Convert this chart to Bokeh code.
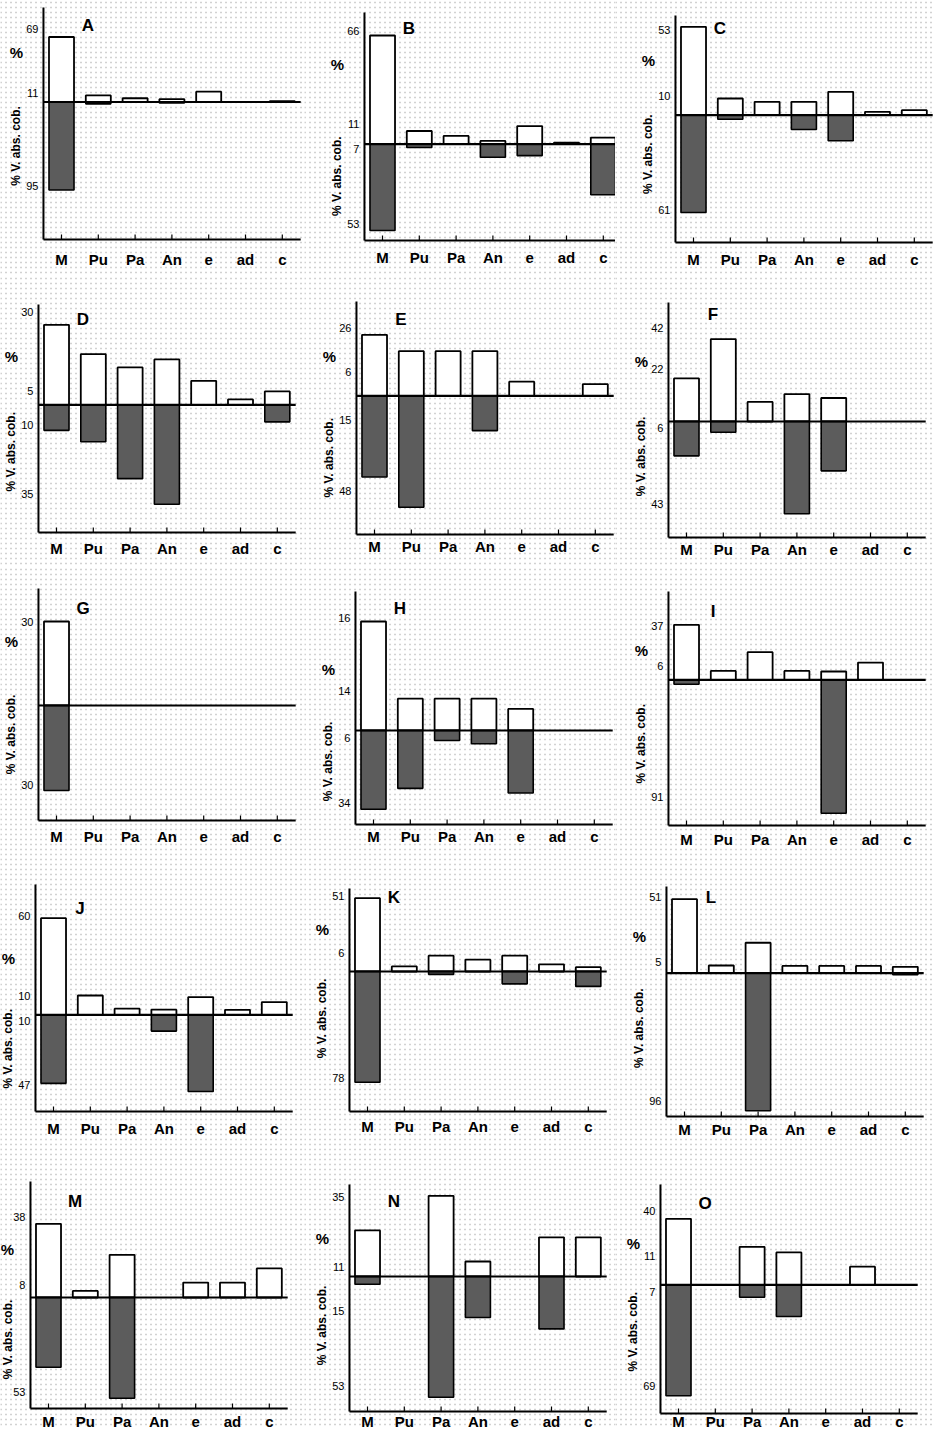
import numpy as np
from bokeh.plotting import figure
from bokeh.models import Range1d, Grid, FixedTicker
from bokeh.layouts import column, row
from bokeh.embed import file_html
from bokeh.resources import INLINE
from bokeh.core.properties import value

# ---------------- data ----------------
CATS = ["M", "Pu", "Pa", "An", "e", "ad", "c"]

A_UP = [69, 7, 4, 3, 11, 0, 1]
A_DOWN = [95, 2, 0, 1, 0, 0, 0]
B_UP = [66, 8, 5, 2, 11, 1, 4]
B_DOWN = [53, 2, 0, 8, 7, 0, 31]
C_UP = [53, 10, 8, 8, 14, 2, 3]
C_DOWN = [61, 2.5, 0, 9, 16, 0, 0]
D_UP = [30, 19, 14, 17, 9, 2, 5]
D_DOWN = [9, 13, 26, 35, 0, 0, 6]
E_UP = [26, 19, 19, 19, 6, 0, 5]
E_DOWN = [35, 48, 0, 15, 0, 0, 0]
F_UP = [22, 42, 10, 14, 12, 0, 0]
F_DOWN = [16, 5, 0, 43, 23, 0, 0]
G_UP = [30, 0, 0, 0, 0, 0, 0]
G_DOWN = [30, 0, 0, 0, 0, 0, 0]
H_UP = [48, 14, 14, 14, 9.5, 0, 0]
H_DOWN = [34, 25, 4.3, 5.7, 27, 0, 0]
I_UP = [37, 6, 18.6, 6, 5.6, 11.6, 0]
I_DOWN = [3, 0, 0, 0, 91, 0, 0]
J_UP = [60, 12, 3.8, 3.2, 11, 3.1, 7.9]
J_DOWN = [42, 0, 0, 10, 47, 0, 0]
K_UP = [51, 3.5, 11, 8.2, 11, 5, 3]
K_DOWN = [78, 0, 2, 0, 8.7, 0, 10.5]
L_UP = [51, 5.3, 21, 5, 5, 5, 4.4]
L_DOWN = [0, 0, 96, 0, 0, 0, 1]
M_UP = [38, 3.4, 22, 0, 7.7, 7.7, 15]
M_DOWN = [36.7, 0, 53, 0, 0, 0, 0]
N_UP = [20, 0, 35, 6.5, 0, 17, 17]
N_DOWN = [3.4, 0, 53, 18, 0, 23, 0]
O_UP = [40, 0, 23, 19.6, 0, 11, 0]
O_DOWN = [69, 0, 7.7, 19.7, 0, 0, 0]

# tick label positions (in each half's own units) and their printed texts
A_UP_TICKS, A_UP_LABELS = [77, 10], ["69", "11"]
A_DN_TICKS, A_DN_LABELS = [91], ["95"]
B_UP_TICKS, B_UP_LABELS = [69, 12], ["66", "11"]
B_DN_TICKS, B_DN_LABELS = [3, 49], ["7", "53"]
C_UP_TICKS, C_UP_LABELS = [51, 11.6], ["53", "10"]
C_DN_TICKS, C_DN_LABELS = [59.5], ["61"]
D_UP_TICKS, D_UP_LABELS = [34.7, 5], ["30", "5"]
D_DN_TICKS, D_DN_LABELS = [7, 31.5], ["10", "35"]
E_UP_TICKS, E_UP_LABELS = [28.8, 10], ["26", "6"]
E_DN_TICKS, E_DN_LABELS = [10.3, 41], ["15", "48"]
F_UP_TICKS, F_UP_LABELS = [47.8, 27], ["42", "22"]
F_DN_TICKS, F_DN_LABELS = [3.1, 38.6], ["6", "43"]
G_UP_TICKS, G_UP_LABELS = [30], ["30"]
G_DN_TICKS, G_DN_LABELS = [28], ["30"]
H_UP_TICKS, H_UP_LABELS = [49.4, 17.2], ["16", "14"]
H_DN_TICKS, H_DN_LABELS = [3.3, 31.3], ["6", "34"]
I_UP_TICKS, I_UP_LABELS = [36.5, 9], ["37", "6"]
I_DN_TICKS, I_DN_LABELS = [80], ["91"]
J_UP_TICKS, J_UP_LABELS = [61.4, 11.5], ["60", "10"]
J_DN_TICKS, J_DN_LABELS = [4, 43], ["10", "47"]
K_UP_TICKS, K_UP_LABELS = [52.4, 12.8], ["51", "6"]
K_DN_TICKS, K_DN_LABELS = [75], ["78"]
L_UP_TICKS, L_UP_LABELS = [52.8, 8], ["51", "5"]
L_DN_TICKS, L_DN_LABELS = [89.4], ["96"]
M_UP_TICKS, M_UP_LABELS = [41.6, 6.5], ["38", "8"]
M_DN_TICKS, M_DN_LABELS = [49.7], ["53"]
N_UP_TICKS, N_UP_LABELS = [34.6, 4.3], ["35", "11"]
N_DN_TICKS, N_DN_LABELS = [15.3, 48.2], ["15", "53"]
O_UP_TICKS, O_UP_LABELS = [44.8, 17.2], ["40", "11"]
O_DN_TICKS, O_DN_LABELS = [4.6, 63.2], ["7", "69"]

UPPER_TITLE = "%"
LOWER_TITLE = "% V. abs. cob."

PANELS = {
    "A": (A_UP, A_DOWN, A_UP_TICKS, A_UP_LABELS, A_DN_TICKS, A_DN_LABELS),
    "B": (B_UP, B_DOWN, B_UP_TICKS, B_UP_LABELS, B_DN_TICKS, B_DN_LABELS),
    "C": (C_UP, C_DOWN, C_UP_TICKS, C_UP_LABELS, C_DN_TICKS, C_DN_LABELS),
    "D": (D_UP, D_DOWN, D_UP_TICKS, D_UP_LABELS, D_DN_TICKS, D_DN_LABELS),
    "E": (E_UP, E_DOWN, E_UP_TICKS, E_UP_LABELS, E_DN_TICKS, E_DN_LABELS),
    "F": (F_UP, F_DOWN, F_UP_TICKS, F_UP_LABELS, F_DN_TICKS, F_DN_LABELS),
    "G": (G_UP, G_DOWN, G_UP_TICKS, G_UP_LABELS, G_DN_TICKS, G_DN_LABELS),
    "H": (H_UP, H_DOWN, H_UP_TICKS, H_UP_LABELS, H_DN_TICKS, H_DN_LABELS),
    "I": (I_UP, I_DOWN, I_UP_TICKS, I_UP_LABELS, I_DN_TICKS, I_DN_LABELS),
    "J": (J_UP, J_DOWN, J_UP_TICKS, J_UP_LABELS, J_DN_TICKS, J_DN_LABELS),
    "K": (K_UP, K_DOWN, K_UP_TICKS, K_UP_LABELS, K_DN_TICKS, K_DN_LABELS),
    "L": (L_UP, L_DOWN, L_UP_TICKS, L_UP_LABELS, L_DN_TICKS, L_DN_LABELS),
    "M": (M_UP, M_DOWN, M_UP_TICKS, M_UP_LABELS, M_DN_TICKS, M_DN_LABELS),
    "N": (N_UP, N_DOWN, N_UP_TICKS, N_UP_LABELS, N_DN_TICKS, N_DN_LABELS),
    "O": (O_UP, O_DOWN, O_UP_TICKS, O_UP_LABELS, O_DN_TICKS, O_DN_LABELS),
}
GRID = [["A", "B", "C"], ["D", "E", "F"], ["G", "H", "I"], ["J", "K", "L"], ["M", "N", "O"]]

# ---------------- layout / style ----------------
FIG_W = [304, 311, 318]
ROW_H = [276, 291, 290, 290, 282]
PX = 36.8          # pixels per category step
AXIS_X = -0.49     # x of the vertical axis line (category units)
LINE_END = 6.5
BAR_W = 0.68
DARK = "#5c5c5c"
FONT = "Liberation Sans"

# m: M-centre from figure left; b: baseline from top; up/dn: pixel length of the largest bar
# top/bot: axis line ends; cat: category label row; let: panel letter; pct / vl: axis titles (from baseline)
LAYOUT = {
    "A": dict(m=61, b=101.5, up=65, dn=88, top=7, bot=239, cat=259, let=25, pct=-50, vl=44),
    "B": dict(m=78, b=143.7, up=108.7, dn=86.3, top=12, bot=240, cat=257, let=28, pct=-80, vl=32),
    "C": dict(m=78, b=114.7, up=88.4, dn=97.3, top=15, bot=242, cat=259, let=28, pct=-55, vl=39),
    "D": dict(m=56, b=128.3, up=80, dn=99.4, top=28, bot=256, cat=272, let=43, pct=-48, vl=47),
    "E": dict(m=70, b=119.3, up=61, dn=111.4, top=25, bot=258, cat=270, let=43, pct=-39, vl=62),
    "F": dict(m=71, b=145, up=82.3, dn=92.3, top=26, bot=261, cat=273, let=38, pct=-60, vl=35),
    "G": dict(m=56, b=138, up=84, dn=85, top=21, bot=253, cat=269, let=41, pct=-64, vl=29),
    "H": dict(m=69, b=163, up=109, dn=78.7, top=24, bot=257, cat=269, let=41, pct=-61, vl=31),
    "I": dict(m=71, b=112.3, up=55, dn=133.4, top=24, bot=258, cat=272, let=44, pct=-29, vl=64),
    "J": dict(m=53, b=157.3, up=96.6, dn=76.7, top=27, bot=254, cat=271, let=51, pct=-56, vl=34),
    "K": dict(m=63, b=114, up=73.3, dn=110.7, top=31, bot=254, cat=269, let=40, pct=-42, vl=47),
    "L": dict(m=69, b=115.7, up=74, dn=137.6, top=29, bot=259, cat=272, let=40, pct=-37, vl=55),
    "M": dict(m=48, b=150, up=73.7, dn=100.7, top=34, bot=261, cat=274, let=54, pct=-48, vl=42),
    "N": dict(m=63, b=129, up=80.7, dn=120.7, top=37, bot=264, cat=274, let=54, pct=-38, vl=49),
    "O": dict(m=63, b=137.3, up=66, dn=111, top=37, bot=266, cat=274, let=56, pct=-41, vl=47),
}


def build(name, col, r):
    up, down, utp, utl, dtp, dtl = PANELS[name]
    L = LAYOUT[name]
    w, h, b = FIG_W[col], ROW_H[r], L["b"]
    su = max(up) / L["up"]
    sd = max(down) / L["dn"]
    x0 = -L["m"] / PX
    p = figure(width=w, height=h, x_range=Range1d(x0, x0 + w / PX),
               y_range=Range1d(-(h - b) * su, b * su),
               x_axis_location=None, y_axis_location=None,
               toolbar_location=None, output_backend="svg", min_border=0,
               outline_line_color=None, background_fill_color="white",
               border_fill_color="white")
    p.extra_y_ranges = {"down": Range1d(-(h - b) * sd, b * sd), "px": Range1d(h, 0)}
    p.xgrid.visible = False
    p.ygrid.visible = False

    # halftone-like dotted paper texture
    tex = Grid(dimension=1, ticker=FixedTicker(ticks=list(np.arange(2, h, 5.0))),
               y_range_name="px", grid_line_color="#a4a4a4", grid_line_width=1.3,
               grid_line_dash="1 4")
    p.add_layout(tex)

    xs = list(range(len(CATS)))
    ux = [x for x, v in zip(xs, up) if v > 0]
    uv = [v for v in up if v > 0]
    dx = [x for x, v in zip(xs, down) if v > 0]
    dv = [-v for v in down if v > 0]
    p.vbar(x=ux, bottom=0, top=uv, width=BAR_W, fill_color="white",
           line_color="black", line_width=1.8)
    p.vbar(x=dx, top=0, bottom=dv, width=BAR_W, y_range_name="down",
           fill_color=DARK, line_color="black", line_width=1.6)

    # axis lines
    p.segment(x0=[AXIS_X, AXIS_X], y0=[L["top"], L["bot"]], x1=[AXIS_X, LINE_END],
              y1=[L["bot"], L["bot"]], y_range_name="px", line_color="black", line_width=2)
    p.segment(x0=xs, y0=[L["bot"]] * len(xs), x1=xs, y1=[L["bot"] - 5] * len(xs),
              y_range_name="px", line_color="black", line_width=1.2)
    p.segment(x0=[AXIS_X], y0=[0], x1=[LINE_END], y1=[0], line_color="black", line_width=2.2)

    # category labels
    p.text(x=xs, y=[L["cat"]] * len(xs), text=CATS, y_range_name="px",
           text_align="center", text_baseline="middle", text_font=value(FONT),
           text_font_style="bold", text_font_size="15px", text_color="black")

    # tick labels
    tx = AXIS_X - 5 / PX
    p.text(x=[tx] * len(utp), y=utp, text=utl, text_align="right", text_baseline="middle",
           text_font=value(FONT), text_font_size="11px", text_color="black")
    p.text(x=[tx] * len(dtp), y=[-v for v in dtp], text=dtl, y_range_name="down",
           text_align="right", text_baseline="middle",
           text_font=value(FONT), text_font_size="11px", text_color="black")

    # axis titles
    lx = max(AXIS_X - 27 / PX, x0 + 7 / PX)
    p.text(x=[lx], y=[b + L["pct"]], text=[UPPER_TITLE], y_range_name="px",
           text_align="center", text_baseline="middle", text_font=value(FONT),
           text_font_style="bold", text_font_size="15px", text_color="black")
    p.text(x=[lx], y=[b + L["vl"]], text=[LOWER_TITLE], y_range_name="px", angle=np.pi / 2,
           text_align="center", text_baseline="middle", text_font=value(FONT),
           text_font_style="bold", text_font_size="12px", text_color="black")

    # panel letter
    p.text(x=[0.72], y=[L["let"]], text=[name], y_range_name="px", text_align="center",
           text_baseline="middle", text_font=value(FONT), text_font_style="bold",
           text_font_size="17px", text_color="black")
    return p


rows = []
for r, names in enumerate(GRID):
    rows.append(row(*[build(n, c, r) for c, n in enumerate(names)]))
layout = column(*rows)

open("out.html", "w").write(file_html(layout, INLINE))
